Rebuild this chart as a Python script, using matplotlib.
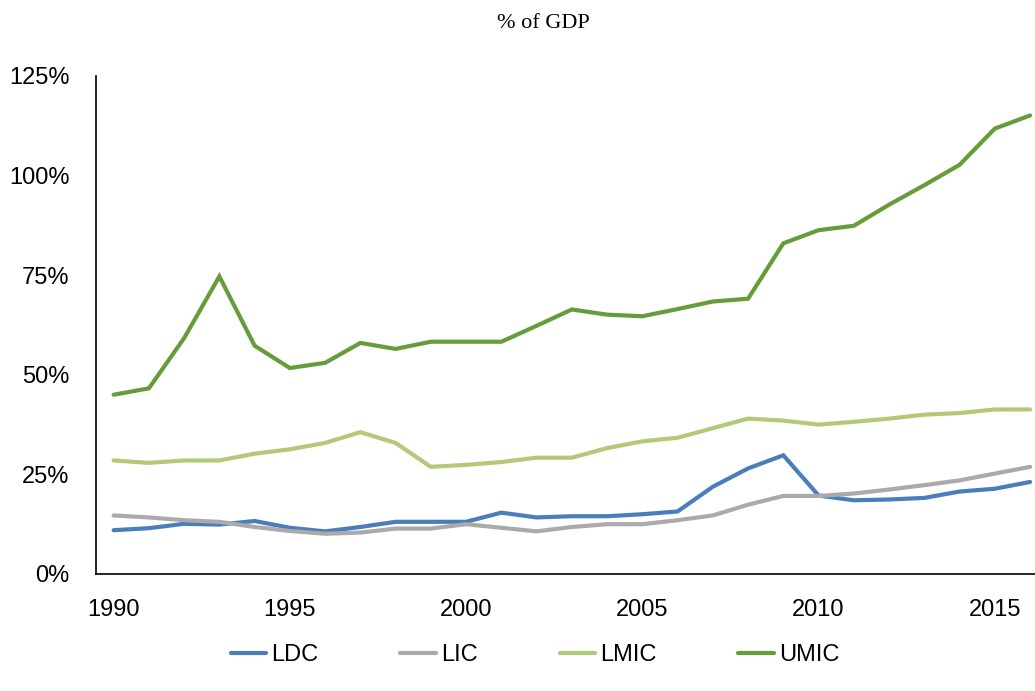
import matplotlib
matplotlib.use("Agg")
import matplotlib.pyplot as plt
from matplotlib.ticker import FuncFormatter, MultipleLocator

years = list(range(1990, 2017))

ldc = [11.0, 11.5, 12.6, 12.4, 13.3, 11.6, 10.7, 11.8, 13.1, 13.1,
       13.1, 15.4, 14.2, 14.5, 14.5, 15.0, 15.7, 21.9, 26.5, 29.8,
       19.7, 18.5, 18.7, 19.1, 20.7, 21.4, 23.1]
lic = [14.7, 14.2, 13.5, 13.1, 11.8, 10.8, 10.1, 10.4, 11.4, 11.4,
       12.5, 11.6, 10.7, 11.8, 12.5, 12.5, 13.5, 14.7, 17.4, 19.6,
       19.6, 20.2, 21.2, 22.3, 23.5, 25.2, 26.9]
lmic = [28.5, 27.9, 28.5, 28.5, 30.2, 31.3, 32.9, 35.6, 32.9, 26.9,
        27.4, 28.1, 29.2, 29.2, 31.6, 33.3, 34.2, 36.6, 39.0, 38.5,
        37.5, 38.2, 39.0, 40.0, 40.4, 41.3, 41.3]
umic = [45.0, 46.6, 59.2, 74.7, 57.3, 51.7, 53.0, 58.0, 56.5, 58.3,
        58.3, 58.3, 62.3, 66.4, 65.1, 64.7, 66.5, 68.4, 69.1, 83.0,
        86.3, 87.4, 92.7, 97.6, 102.7, 111.8, 115.1]

series_names = ["LDC", "LIC", "LMIC", "UMIC"]
colors = ["#4A7EBB", "#AAAAAA", "#B3C97A", "#679C3B"]

plt.rcParams['font.family'] = ['Liberation Sans', 'DejaVu Sans']
fs = 17

fig = plt.figure(figsize=(10.35, 6.91), dpi=100)
ax = fig.add_axes([96 / 1035, 1 - 574 / 691, 1 - 96 / 1035, (574 - 76) / 691])

for vals, name, c in zip([ldc, lic, lmic, umic], series_names, colors):
    ax.plot(years, vals, color=c, lw=3, label=name, solid_capstyle='round',
            solid_joinstyle='miter')

ax.set_xlim(1989.5, 2016.14)
ax.set_ylim(0, 125)
ax.yaxis.set_major_locator(MultipleLocator(25))
ax.yaxis.set_major_formatter(FuncFormatter(lambda v, p: f"{int(v)}%"))
ax.set_xticks([1990, 1995, 2000, 2005, 2010, 2015])
ax.tick_params(axis='both', length=0, labelsize=fs, pad=19, colors='black')
ax.tick_params(axis='x', pad=18)
for s in ['top', 'right']:
    ax.spines[s].set_visible(False)
for s in ['left', 'bottom']:
    ax.spines[s].set_color('black')
    ax.spines[s].set_linewidth(1.2)

fig.text(543 / 1035, 1 - 24 / 691, "% of GDP", family=['Liberation Serif'],
         fontsize=16, ha='center', va='center')

fig.legend(loc='center', bbox_to_anchor=(535 / 1035, 1 - 655 / 691), ncol=4,
           frameon=False, fontsize=fs, handlelength=1.6 * 16 / fs,
           handletextpad=0.2, columnspacing=3.7 * 16 / fs)

fig.savefig("out.png", dpi=100)
